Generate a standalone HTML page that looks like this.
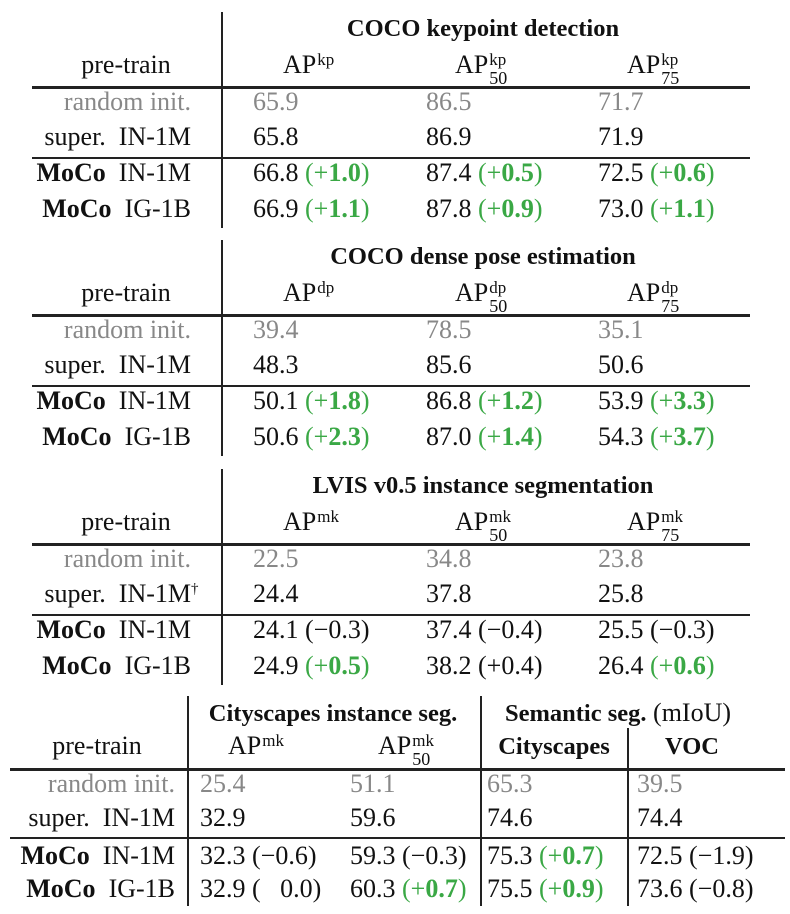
<!DOCTYPE html>
<html><head><meta charset="utf-8">
<style>
body{margin:0;background:#fff;width:790px;height:914px;position:relative;overflow:hidden;font-family:"Liberation Serif",serif;color:#111}
.t{position:absolute;font-size:26px;line-height:30px;white-space:nowrap}
.tt{font-size:24.5px}
.b{font-weight:bold}
.g{color:#888}
.gr{color:#3aa845}
.ln{position:absolute;background:#222}
.ss{display:inline-block;position:relative;width:28px;height:30px;vertical-align:top}
.ss .up{position:absolute;left:1px;top:-5px;font-size:17px}
.ss .dn{position:absolute;left:1px;top:13px;font-size:18px}
</style></head><body>
<script>
const labels=["random init.","super.  IN-1M","MoCo","MoCo"];
const labelTails=["","",  " IN-1M"," IG-1B"];
const t1Vals=[["65.9","86.5","71.7"],["65.8","86.9","71.9"],["66.8","87.4","72.5"],["66.9","87.8","73.0"]];
const t1Delta=[[null,null,null],[null,null,null],["+1.0","+0.5","+0.6"],["+1.1","+0.9","+1.1"]];
const t2Vals=[["39.4","78.5","35.1"],["48.3","85.6","50.6"],["50.1","86.8","53.9"],["50.6","87.0","54.3"]];
const t2Delta=[[null,null,null],[null,null,null],["+1.8","+1.2","+3.3"],["+2.3","+1.4","+3.7"]];
const t3Vals=[["22.5","34.8","23.8"],["24.4","37.8","25.8"],["24.1","37.4","25.5"],["24.9","38.2","26.4"]];
const t3Delta=[[null,null,null],[null,null,null],["−0.3","−0.4","−0.3"],["+0.5","+0.4k","+0.6"]];
const t4Vals=[["25.4","51.1","65.3","39.5"],["32.9","59.6","74.6","74.4"],["32.3","59.3","75.3","72.5"],["32.9","60.3","75.5","73.6"]];
const t4Delta=[[null,null,null,null],[null,null,null,null],["−0.6","−0.3","+0.7","−1.9"],["z0.0","+0.7","+0.9","−0.8"]];

function add(x,y,html,name,align){
  const el=document.createElement('div');
  el.className='t';
  el.innerHTML=html;
  el.style.top=(y-15)+'px';
  if(align==='r'){el.style.right=(790-x)+'px';}
  else if(align==='c'){el.style.left=x+'px';el.style.transform='translateX(-50%)';}
  else el.style.left=x+'px';
  
  
  document.body.appendChild(el);
  return el;
}
function line(x,y,w,h,name){
  const el=document.createElement('div');
  el.className='ln';
  el.style.left=x+'px';el.style.top=y+'px';el.style.width=w+'px';el.style.height=h+'px';
  
  
  document.body.appendChild(el);
}
function fmtDelta(d){
  if(!d) return '';
  if(d[0]==='z') return ' (&nbsp;&nbsp;&nbsp;'+d.slice(1)+')';
  if(d.endsWith('k')) return ' ('+d.slice(0,-1)+')';
  if(d[0]==='+') return ' <span class="gr">(+<b>'+d.slice(1)+'</b>)</span>';
  return ' ('+d+')';
}
function ap(sup,sub){
  return 'AP<span class="ss"><span class="up">'+sup+'</span>'+(sub?'<span class="dn">'+sub+'</span>':'')+'</span>';
}
function label(i,right,y,tbl,dag){
  let h;
  if(i===0) h='<span class="g">random init.</span>';
  else if(i===1) h='super.&nbsp; IN-1M'+(dag?'<sup style="font-size:15px;position:absolute;top:-5px">†</sup>':'');
  else h='<b>MoCo</b>&nbsp;'+labelTails[i];
  add(right,y,h,tbl+'-row-label-'+(i+1),'r');
}
function table(oy,title,sup,vals,deltas,name,dag){
  line(221,oy-16,1.5,216,name+'-vline');
  add(483,oy,'<span class="b tt">'+title+'</span>',name+'-title','c');
  add(126,oy+37,'pre-train',name+'-header-pretrain','c');
  add(283,oy+37,ap(sup,''),name+'-header-ap','l');
  add(455,oy+37,ap(sup,'50'),name+'-header-ap50','l');
  add(627,oy+37,ap(sup,'75'),name+'-header-ap75','l');
  line(32,oy+58,718,3,name+'-top-rule');
  line(32,oy+129,718,1.5,name+'-mid-rule');
  const rows=[oy+74,oy+109,oy+145,oy+181];
  const cx=[253,426,598];
  for(let i=0;i<4;i++){
    label(i,191,rows[i],name,dag&&i===1);
    for(let j=0;j<3;j++){
      let h=vals[i][j]+fmtDelta(deltas[i][j]);
      if(i===0)h='<span class="g">'+h+'</span>';
      add(cx[j],rows[i],h,name+'-cell-r'+(i+1)+'-c'+(j+1),'l');
    }
  }
}
table(28,'COCO keypoint detection','kp',t1Vals,t1Delta,'keypoint-table',false);
table(256,'COCO dense pose estimation','dp',t2Vals,t2Delta,'densepose-table',false);
table(485,'LVIS v0.5 instance segmentation','mk',t3Vals,t3Delta,'lvis-table',true);

(function(){
  const n='cityscapes-table';
  line(187,696,1.5,210,n+'-vline-1');
  line(480,696,1.5,210,n+'-vline-2');
  line(627,728,1.5,178,n+'-vline-3');
  add(333,713,'<span class="b tt">Cityscapes instance seg.</span>',n+'-title-instance','c');
  add(618,713,'<span class="b tt">Semantic seg.</span> (mIoU)',n+'-title-semantic','c');
  add(97,746,'pre-train',n+'-header-pretrain','c');
  add(228,746,ap('mk',''),n+'-header-ap','l');
  add(378,746,ap('mk','50'),n+'-header-ap50','l');
  add(554,746,'<b class="tt">Cityscapes</b>',n+'-header-cityscapes','c');
  add(692,746,'<b class="tt">VOC</b>',n+'-header-voc','c');
  line(10,768,775,3,n+'-top-rule');
  line(10,837,775,1.5,n+'-mid-rule');
  const rows=[784,818,856,889];
  const cx=[200,350,487,637];
  for(let i=0;i<4;i++){
    label(i,175,rows[i],n,false);
    for(let j=0;j<4;j++){
      let h=t4Vals[i][j]+fmtDelta(t4Delta[i][j]);
      if(i===0)h='<span class="g">'+h+'</span>';
      add(cx[j],rows[i],h,n+'-cell-r'+(i+1)+'-c'+(j+1),'l');
    }
  }
})();
</script>
</body></html>
